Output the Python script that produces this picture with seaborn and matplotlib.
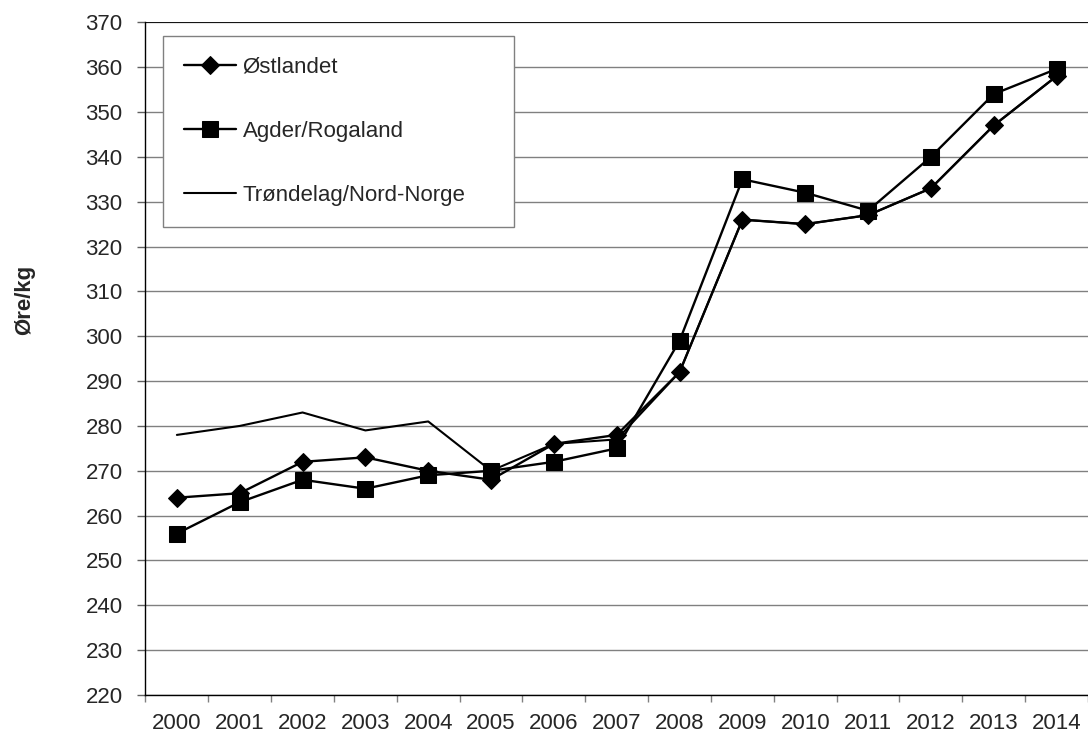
import matplotlib
matplotlib.use("Agg")
import matplotlib.pyplot as plt
import seaborn as sns
import pandas as pd
import numpy as np

years = [str(y) for y in range(2000, 2015)]
ostlandet = [264, 265, 272, 273, 270, 268, 276, 278, 292, 326, 325, 327, 333, 347, 358]
agder = [256, 263, 268, 266, 269, 270, 272, 275, 299, 335, 332, 328, 340, 354, 359.6]
trondelag = [278, 280, 283, 279, 281, 270, 276, 277, 292, 326, 325, 327, 333, 347, 358]
series_names = ["Østlandet", "Agder/Rogaland", "Trøndelag/Nord-Norge"]
y_ticks = list(range(220, 371, 10))

sns.set_theme(style="white")
plt.rcParams['font.family'] = ['Liberation Sans', 'DejaVu Sans']

FS = 16

fig = plt.figure(figsize=(10.88, 7.34), dpi=100)
ax = fig.add_axes([0.1337, 0.0531, 0.8663, 0.9165])

idx = np.arange(len(years))
df = pd.DataFrame({"x": np.tile(idx, 3),
                   "value": ostlandet + agder + trondelag,
                   "serie": np.repeat(series_names, len(years))})

styles = {
    "Østlandet": dict(marker="D", markersize=9, lw=1.7),
    "Agder/Rogaland": dict(marker="s", markersize=11.5, lw=1.7),
    "Trøndelag/Nord-Norge": dict(marker=None, markersize=0, lw=1.5),
}
for name in series_names:
    sub = df[df["serie"] == name]
    st = styles[name]
    sns.lineplot(data=sub, x="x", y="value", ax=ax, color="black",
                 marker=st["marker"], markersize=st["markersize"], linewidth=st["lw"],
                 markeredgecolor="black", markerfacecolor="black", label=name,
                 zorder=3 if name != "Trøndelag/Nord-Norge" else 2)

ax.set_xlim(-0.5, len(years) - 0.5)
ax.set_ylim(220, 370)
ax.set_yticks(y_ticks)
ax.set_yticklabels([str(v) for v in y_ticks], fontsize=FS)
ax.yaxis.grid(True, color="#808080", linewidth=1.0)
ax.set_axisbelow(True)

ax.set_xticks(np.arange(-0.5, len(years), 1.0))
ax.set_xticklabels([])
ax.set_xticks(idx, minor=True)
ax.set_xticklabels(years, minor=True, fontsize=FS)
ax.tick_params(axis="x", which="major", direction="out", length=5, width=1, color="#808080", bottom=True)
ax.tick_params(axis="x", which="minor", length=0, pad=13)
ax.tick_params(axis="y", direction="out", length=6, width=1, color="#606060", left=True, pad=10.5)

for s in ["top", "right"]:
    ax.spines[s].set_visible(False)
ax.spines["left"].set_color("black")
ax.spines["bottom"].set_color("black")
ax.spines["left"].set_linewidth(1)
ax.spines["bottom"].set_linewidth(1)
ax.axhline(370, color="black", linewidth=1.2, zorder=1)

ax.set_xlabel("")
ax.set_ylabel("Øre/kg", fontsize=FS, fontweight="bold")
ax.yaxis.set_label_coords(-0.117, 0.587)

leg = ax.legend(loc="upper left", bbox_to_anchor=(0.0183, 0.0, 0.373, 0.980), mode="expand",
                borderaxespad=0, frameon=True, fancybox=False, framealpha=1,
                edgecolor="#808080", fontsize=FS, labelspacing=1.93, borderpad=0.95,
                handlelength=2.35, handletextpad=0.3)
leg.get_frame().set_linewidth(1.0)

fig.savefig("out.png", dpi=100)
